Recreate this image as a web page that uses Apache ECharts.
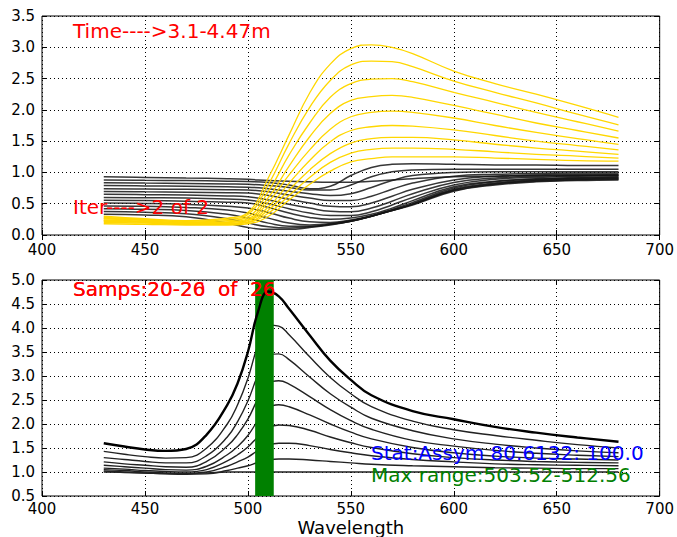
<!DOCTYPE html>
<html>
<head>
<meta charset="utf-8">
<script src="https://cdn.jsdelivr.net/npm/echarts@6/dist/echarts.min.js"></script>
<style>html,body{margin:0;padding:0;background:#fff}#c{width:677px;height:537px}</style>
</head>
<body>
<div id="c"></div>
<script>
// ---------- data ----------
const xTicks = [400, 450, 500, 550, 600, 650, 700];
const xTop = [430,450,470,490,500,510,520,530,540,550,560,570,580,600,620,640,660,680];
const xBot = [430,440,450,460,470,480,490,495,500,505,510,515,520,530,540,550,560,580,600,620,640,660,680];

// top panel, yellow curves
const yellow0 = [.30,.26,.23,.27,.36,.92,1.60,2.27,2.73,2.98,3.04,3.00,2.90,2.62,2.42,2.25,2.07,1.88];
const yellow1 = [.28,.25,.22,.25,.33,.81,1.46,2.04,2.47,2.72,2.78,2.77,2.69,2.46,2.28,2.11,1.93,1.76];
const yellow2 = [.27,.24,.21,.23,.29,.70,1.28,1.79,2.20,2.42,2.49,2.50,2.45,2.28,2.12,1.96,1.81,1.66];
const yellow3 = [.26,.23,.20,.21,.26,.60,1.10,1.57,1.94,2.15,2.21,2.23,2.20,2.07,1.93,1.79,1.67,1.55];
const yellow4 = [.24,.22,.19,.20,.24,.53,.96,1.36,1.69,1.89,1.96,1.98,1.96,1.87,1.75,1.64,1.54,1.45];
const yellow5 = [.23,.21,.19,.19,.23,.45,.83,1.19,1.49,1.67,1.73,1.75,1.74,1.68,1.59,1.50,1.43,1.36];
const yellow6 = [.22,.20,.18,.18,.21,.40,.72,1.04,1.30,1.47,1.54,1.56,1.56,1.52,1.45,1.39,1.34,1.29];
const yellow7 = [.20,.19,.17,.17,.20,.35,.63,.92,1.16,1.31,1.37,1.39,1.39,1.37,1.33,1.29,1.26,1.23];
const yellow8 = [.18,.17,.16,.16,.18,.30,.56,.81,1.02,1.17,1.22,1.25,1.25,1.25,1.23,1.21,1.19,1.18];

// top panel, black curves
const black0  = [.93,.92,.91,.90,.89,.87,.86,.85,.845,.845,.86,.88,.90,.93,.94,.95,.95,.95];
const black1  = [.88,.875,.87,.86,.855,.84,.80,.74,.78,.95,1.08,1.13,1.14,1.13,1.12,1.12,1.11,1.11];
const black2  = [.835,.83,.825,.815,.81,.79,.76,.72,.72,.80,.93,1.01,1.04,1.05,1.05,1.05,1.05,1.05];
const black3  = [.79,.785,.78,.77,.765,.74,.70,.66,.63,.66,.76,.87,.95,1.00,1.01,1.01,1.01,1.01];
const black4  = [.74,.735,.73,.725,.72,.69,.64,.59,.55,.55,.62,.73,.83,.94,.97,.98,.99,.99];
const black5  = [.695,.69,.685,.675,.67,.63,.57,.51,.46,.45,.51,.62,.73,.88,.94,.96,.97,.97];
const black6  = [.65,.645,.64,.625,.61,.56,.49,.43,.38,.37,.43,.54,.66,.84,.91,.94,.95,.96];
const black7  = [.60,.595,.59,.575,.56,.50,.42,.35,.31,.31,.37,.48,.60,.80,.89,.92,.94,.95];
const black8  = [.555,.55,.54,.525,.51,.44,.35,.28,.25,.27,.33,.43,.55,.77,.86,.90,.92,.93];
const black9  = [.51,.505,.49,.46,.43,.36,.27,.21,.20,.24,.31,.41,.52,.75,.85,.89,.91,.92];
const black10 = [.465,.46,.44,.40,.35,.27,.19,.16,.18,.23,.30,.40,.50,.73,.83,.88,.90,.91];
const black11 = [.42,.41,.39,.33,.27,.19,.14,.14,.17,.22,.30,.39,.49,.72,.82,.87,.89,.90];
const black12 = [.375,.365,.34,.26,.19,.13,.11,.13,.17,.22,.30,.39,.49,.71,.81,.86,.88,.89];
const black13 = [.33,.32,.29,.19,.12,.09,.09,.12,.16,.22,.30,.39,.48,.70,.80,.85,.87,.88];

// bottom panel curves
const samp0 = [1.60,1.53,1.47,1.44,1.48,1.78,2.40,2.85,3.50,4.35,4.76,4.66,4.40,3.85,3.32,2.92,2.60,2.27,2.10,1.94,1.82,1.72,1.63];
const samp1 = [1.43,1.37,1.32,1.29,1.30,1.50,2.00,2.40,2.95,3.65,4.06,4.04,3.86,3.40,2.97,2.63,2.36,2.06,1.88,1.76,1.66,1.57,1.50];
const samp2 = [1.30,1.26,1.22,1.19,1.19,1.34,1.73,2.05,2.48,3.03,3.43,3.46,3.34,2.98,2.63,2.35,2.12,1.86,1.69,1.58,1.50,1.44,1.40];
const samp3 = [1.21,1.17,1.14,1.11,1.10,1.22,1.54,1.78,2.10,2.53,2.85,2.90,2.83,2.57,2.30,2.07,1.89,1.66,1.54,1.45,1.39,1.35,1.32];
const samp4 = [1.14,1.11,1.08,1.05,1.04,1.12,1.36,1.53,1.76,2.08,2.34,2.40,2.36,2.19,2.00,1.83,1.69,1.51,1.40,1.33,1.29,1.27,1.25];
const samp5 = [1.08,1.06,1.03,1.01,1.00,1.05,1.23,1.36,1.52,1.74,1.92,1.98,1.97,1.87,1.73,1.61,1.51,1.38,1.30,1.25,1.22,1.20,1.19];
const samp6 = [1.05,1.03,1.00,0.98,0.97,1.00,1.12,1.21,1.31,1.45,1.56,1.60,1.60,1.55,1.47,1.40,1.34,1.26,1.21,1.17,1.15,1.14,1.13];
const samp7 = [1.02,1.00,0.98,0.96,0.95,0.96,1.03,1.08,1.13,1.20,1.25,1.27,1.27,1.25,1.22,1.19,1.16,1.13,1.11,1.09,1.08,1.07,1.07];
const samp8 = [1.00,0.99,0.98,0.97,0.97,0.98,1.00,1.00,1.00,1.00,1.00,1.00,1.00,1.00,1.00,1.00,1.00,1.00,1.00,1.00,1.00,1.00,1.00];

const maxRange = [503.52, 512.56];

const textTime = 'Time---->3.1-4.47m';
const textIter = 'Iter---->2 of 2';
const textSampsA = 'Samps:20-26  of  26';
const textSampsB = 'Samps:20-20  of  26';
const textStat = 'Stat:Assym 80.6132: 100.0';
const textMax = 'Max range:503.52-512.56';
const xName = 'Wavelength';

// ---------- chart ----------
const FONT = 'DejaVu Sans';
const yellows = [yellow0,yellow1,yellow2,yellow3,yellow4,yellow5,yellow6,yellow7,yellow8];
const blacks = [black0,black1,black2,black3,black4,black5,black6,black7,black8,black9,black10,black11,black12,black13];
const samps = [samp1,samp2,samp3,samp4,samp5,samp6,samp7,samp8];

function zip(xs, ys) { return xs.map((x, i) => [x, ys[i]]); }
function lineSeries(xs, ys, xi, yi, color, width, z) {
  return {
    type: 'line', xAxisIndex: xi, yAxisIndex: yi, data: zip(xs, ys),
    showSymbol: false, symbol: 'none', smooth: 0.45,
    lineStyle: { color: color, width: width }, z: z, silent: true
  };
}

const grids = [
  { left: 42, right: 15, top: 16, height: 219, show: true, borderColor: '#000', borderWidth: 1, backgroundColor: '#fff' },
  { left: 42, right: 15, top: 280, height: 218, show: true, borderColor: '#000', borderWidth: 1, backgroundColor: '#fff' }
];

function mainX(gi, margin, extra) {
  return Object.assign({
    gridIndex: gi, type: 'value', min: xTicks[0], max: xTicks[xTicks.length - 1], interval: 50,
    axisLine: { show: false },
    axisTick: { show: true, inside: true, length: 5, lineStyle: { color: '#000' } },
    axisLabel: { color: '#000', fontSize: 15, fontFamily: FONT, margin: margin },
    splitLine: { show: true, lineStyle: { color: '#000', width: 1, type: [1, 3] } }
  }, extra || {});
}
function topX(gi) {
  return {
    gridIndex: gi, type: 'value', position: 'top', min: 400, max: 700, interval: 50,
    axisLine: { show: false }, axisLabel: { show: false }, splitLine: { show: false },
    axisTick: { show: true, inside: true, length: 5, lineStyle: { color: '#000' } }
  };
}
function mainY(gi, min, max) {
  return {
    gridIndex: gi, type: 'value', min: min, max: max, interval: 0.5,
    axisLine: { show: false },
    axisTick: { show: true, inside: true, length: 5, lineStyle: { color: '#000' } },
    axisLabel: { color: '#000', fontSize: 15, fontFamily: FONT, margin: 7, formatter: v => v.toFixed(1) },
    splitLine: { show: true, lineStyle: { color: '#000', width: 1, type: [1, 3] } }
  };
}
function rightY(gi, min, max) {
  return {
    gridIndex: gi, type: 'value', position: 'right', min: min, max: max, interval: 0.5,
    axisLine: { show: false }, axisLabel: { show: false }, splitLine: { show: false },
    axisTick: { show: true, inside: true, length: 5, lineStyle: { color: '#000' } }
  };
}

const series = [];
blacks.forEach(b => series.push(lineSeries(xTop, b, 0, 0, 'rgba(20,20,20,0.85)', 1.5, 2)));
yellows.forEach(y => series.push(lineSeries(xTop, y, 0, 0, '#ffd700', 1.3, 3)));
samps.forEach(s => series.push(lineSeries(xBot, s, 2, 2, '#222', 1.4, 2)));
series.push({
  type: 'line', xAxisIndex: 2, yAxisIndex: 2, data: [], z: 3, silent: true,
  markArea: {
    silent: true, z: 3,
    itemStyle: { color: '#008000', opacity: 1, borderWidth: 0 },
    data: [[{ xAxis: maxRange[0] }, { xAxis: maxRange[1] }]]
  }
});
series.push(lineSeries(xBot, samp0, 2, 2, '#000', 2.4, 5));

function txt(s, x, y, color) {
  return { type: 'text', x: x, y: y, z: 100, silent: true,
    style: { text: s, fill: color, font: '20px "' + FONT + '"', textAlign: 'left', textVerticalAlign: 'middle', verticalAlign: 'middle' } };
}

const option = {
  animation: false,
  backgroundColor: '#fff',
  grid: grids,
  xAxis: [
    mainX(0, 7), topX(0),
    mainX(1, 5, { name: xName, nameLocation: 'middle', nameGap: 22, nameTextStyle: { color: '#000', fontSize: 18, fontFamily: FONT } }),
    topX(1)
  ],
  yAxis: [mainY(0, 0, 3.5), rightY(0, 0, 3.5), mainY(1, 0.5, 5.0), rightY(1, 0.5, 5.0)],
  series: series,
  graphic: [
    txt(textTime, 73, 30.5, '#ff0000'),
    txt(textIter, 73, 206.5, '#ff0000'),
    txt(textSampsA, 73, 289, '#ff0000'),
    txt(textSampsB, 73, 289, '#ff0000'),
    txt(textStat, 371, 453, '#0000ff'),
    txt(textMax, 371, 475, '#008000')
  ]
};

const chart = echarts.init(document.getElementById('c'), null, { renderer: 'svg', width: 677, height: 537 });
chart.setOption(option);
</script>
</body>
</html>
